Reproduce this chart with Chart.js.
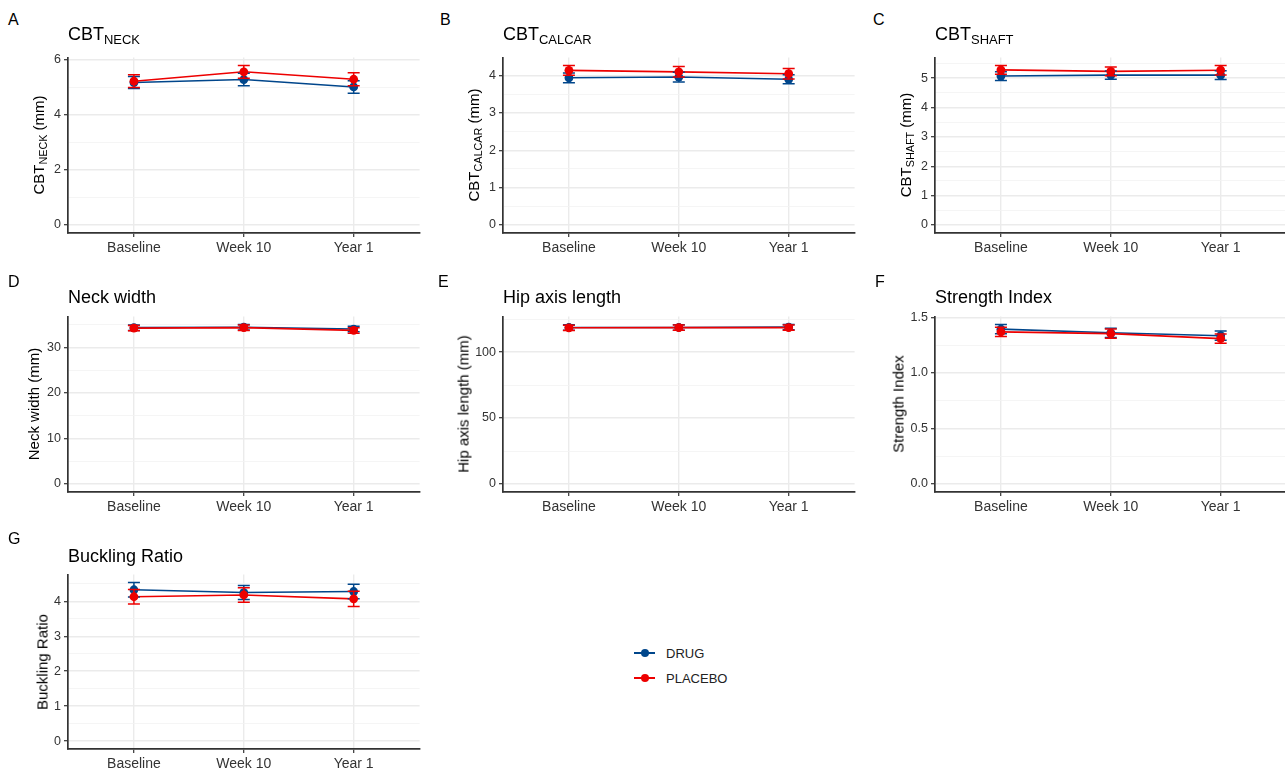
<!DOCTYPE html>
<html>
<head>
<meta charset="utf-8">
<script src="https://cdn.jsdelivr.net/npm/chart.js@4.4.1/dist/chart.umd.min.js"></script>
<style>
  html, body { margin: 0; padding: 0; background: #fff; overflow: hidden; }
  body { width: 1285px; height: 773px; position: relative; font-family: "Liberation Sans", Arial, sans-serif; }
  canvas { position: absolute; }
  .tag { position: absolute; font-size: 16px; line-height: 1; color: #000; }
  .ttl { position: absolute; font-size: 18px; line-height: 1; color: #000; white-space: nowrap; }
  .ylab { position: absolute; font-size: 15px; line-height: 1; color: #000; white-space: nowrap;
          transform: translate(-50%, -50%) rotate(-90deg); }
  sub { font-size: 0.72em; vertical-align: -0.32em; line-height: 0; }
  .key { position: absolute; height: 20px; display: flex; align-items: center; font-size: 13px; color: #222; }
  .sw { position: relative; display: inline-block; width: 21px; height: 2px; margin-right: 11px; }
  .sw::after { content: ''; position: absolute; left: 7px; top: -3px; width: 8px; height: 8px; border-radius: 50%; background: inherit; }
</style>
</head>
<body>

<script>
// 時間點
const timepoints = ['Baseline', 'Week 10', 'Year 1'];

// A - CBT neck (mm)
const cbtNeckDrug = [5.17, 5.28, 5.01];
const cbtNeckDrugSe = [0.22, 0.23, 0.23];
const cbtNeckPlacebo = [5.22, 5.56, 5.29];
const cbtNeckPlaceboSe = [0.23, 0.23, 0.24];
const cbtNeckTicks = ['0', '2', '4', '6'];

// B - CBT calcar (mm)
const cbtCalcarDrug = [3.94, 3.96, 3.90];
const cbtCalcarDrugSe = [0.13, 0.13, 0.12];
const cbtCalcarPlacebo = [4.14, 4.10, 4.05];
const cbtCalcarPlaceboSe = [0.13, 0.14, 0.14];
const cbtCalcarTicks = ['0', '1', '2', '3', '4'];

// C - CBT shaft (mm)
const cbtShaftDrug = [5.07, 5.10, 5.10];
const cbtShaftDrugSe = [0.15, 0.14, 0.15];
const cbtShaftPlacebo = [5.28, 5.23, 5.27];
const cbtShaftPlaceboSe = [0.15, 0.15, 0.16];
const cbtShaftTicks = ['0', '1', '2', '3', '4', '5'];

// D - neck width (mm)
const neckWidthDrug = [34.3, 34.4, 34.0];
const neckWidthDrugSe = [0.6, 0.6, 0.6];
const neckWidthPlacebo = [34.2, 34.3, 33.7];
const neckWidthPlaceboSe = [0.6, 0.6, 0.6];
const neckWidthTicks = ['0', '10', '20', '30'];

// E - hip axis length (mm)
const hipAxisDrug = [118.6, 118.6, 118.9];
const hipAxisDrugSe = [2.0, 2.0, 2.0];
const hipAxisPlacebo = [118.4, 118.5, 118.5];
const hipAxisPlaceboSe = [2.0, 2.0, 2.0];
const hipAxisTicks = ['0', '50', '100'];

// F - strength index
const strengthDrug = [1.395, 1.362, 1.336];
const strengthDrugSe = [0.042, 0.042, 0.042];
const strengthPlacebo = [1.37, 1.355, 1.31];
const strengthPlaceboSe = [0.042, 0.042, 0.042];
const strengthTicks = ['0.0', '0.5', '1.0', '1.5'];

// G - buckling ratio
const bucklingDrug = [4.33, 4.25, 4.28];
const bucklingDrugSe = [0.21, 0.20, 0.21];
const bucklingPlacebo = [4.13, 4.18, 4.07];
const bucklingPlaceboSe = [0.21, 0.21, 0.22];
const bucklingTicks = ['0', '1', '2', '3', '4'];

const DRUG_COLOR = '#00468B';
const PLACEBO_COLOR = '#ED0000';
const FONT = '"Liberation Sans", Arial, sans-serif';

const YW = 40;   // y 軸寬度
const XH = 24;   // x 軸高度
const PT = 10;   // 上方留白
const PR = 2;
const CAP = 6;

// 誤差線 plugin
const errorBars = {
  id: 'errorBars',
  beforeDatasetDraw(chart, args) {
    const ds = chart.data.datasets[args.index];
    if (!ds.err) return;
    const ctx = chart.ctx;
    const y = chart.scales.y;
    ctx.save();
    ctx.strokeStyle = ds.pointBackgroundColor;
    ctx.lineWidth = 1.5;
    args.meta.data.forEach((pt, i) => {
      const v = ds.data[i].y;
      const top = y.getPixelForValue(v + ds.err[i]);
      const bot = y.getPixelForValue(v - ds.err[i]);
      ctx.beginPath();
      ctx.moveTo(pt.x, top); ctx.lineTo(pt.x, bot);
      ctx.moveTo(pt.x - CAP, top); ctx.lineTo(pt.x + CAP, top);
      ctx.moveTo(pt.x - CAP, bot); ctx.lineTo(pt.x + CAP, bot);
      ctx.stroke();
    });
    ctx.restore();
  }
};

function xy(values) {
  return values.map((v, i) => ({ x: i + 1, y: v }));
}

function addText(cls, html, left, top) {
  const d = document.createElement('div');
  d.className = cls;
  d.innerHTML = html;
  d.style.left = left + 'px';
  d.style.top = top + 'px';
  document.body.appendChild(d);
}

function makePanel(p) {
  const tickVals = p.ticks.map(Number);
  const step = tickVals[1] - tickVals[0];

  // ggplot 式的範圍: 0 到最大值, 上下各擴 5%
  const hi = Math.max(...p.drug.map((v, i) => v + p.drugSe[i]), ...p.placebo.map((v, i) => v + p.placeboSe[i]));
  const pad = hi * 0.05;
  const yMin = -pad, yMax = hi + pad;

  const minor = [];
  for (let i = 0; i < tickVals.length; i++) {
    const m = tickVals[i] + step / 2;
    if (m < yMax) minor.push(m);
  }
  const allTicks = tickVals.concat(minor).sort((a, b) => a - b);
  const isMajor = v => tickVals.some(t => Math.abs(t - v) < 1e-9);

  const canvas = document.createElement('canvas');
  const w = p.x1 - p.x0 + YW + PR;
  const h = p.y1 - p.y0 + PT + XH;
  canvas.width = w;
  canvas.height = h;
  canvas.style.left = (p.x0 - YW) + 'px';
  canvas.style.top = (p.y0 - PT) + 'px';
  canvas.style.width = w + 'px';
  canvas.style.height = h + 'px';
  document.body.appendChild(canvas);

  addText('tag', p.tag, p.tagX, p.tagY);
  addText('ttl', p.title, p.x0, p.titleY);
  addText('ylab', p.ylab, p.ylabX, (p.y0 + p.y1) / 2);

  const lineBase = { borderWidth: 1.6, pointRadius: 0, fill: false, tension: 0 };
  const pointBase = { showLine: false, pointRadius: 4.4, pointBorderWidth: 0, pointHoverRadius: 4.4 };

  new Chart(canvas, {
    type: 'line',
    data: {
      datasets: [
        { ...lineBase, label: 'DRUG', data: xy(p.drug), borderColor: DRUG_COLOR, order: 4 },
        { ...lineBase, label: 'PLACEBO', data: xy(p.placebo), borderColor: PLACEBO_COLOR, order: 3 },
        { ...pointBase, label: 'DRUG', data: xy(p.drug), err: p.drugSe, pointBackgroundColor: DRUG_COLOR, borderColor: DRUG_COLOR, order: 2 },
        { ...pointBase, label: 'PLACEBO', data: xy(p.placebo), err: p.placeboSe, pointBackgroundColor: PLACEBO_COLOR, borderColor: PLACEBO_COLOR, order: 1 },
      ],
    },
    options: {
      responsive: false,
      animation: false,
      events: [],
      layout: { padding: { top: PT, right: PR, left: 0, bottom: 0 } },
      plugins: { legend: { display: false }, tooltip: { enabled: false } },
      scales: {
        x: {
          type: 'linear',
          min: 0.4,
          max: 3.6,
          afterBuildTicks: s => { s.ticks = timepoints.map((t, i) => ({ value: i + 1 })); },
          afterFit: s => { s.height = XH; },
          ticks: {
            autoSkip: false, maxRotation: 0, padding: 3,
            color: '#333', font: { family: FONT, size: 14 },
            callback: v => timepoints[Math.round(v) - 1],
          },
          grid: { color: '#ebebeb', lineWidth: 1.4, tickLength: 4, tickColor: '#333', tickWidth: 1.2 },
          border: { display: true, color: '#333', width: 1.7 },
        },
        y: {
          type: 'linear',
          min: yMin,
          max: yMax,
          afterBuildTicks: s => { s.ticks = allTicks.map(v => ({ value: v })); },
          afterFit: s => { s.width = YW; },
          ticks: {
            autoSkip: false, padding: 3,
            color: '#333', font: { family: FONT, size: 12.5 },
            callback: v => {
              const i = tickVals.findIndex(t => Math.abs(t - v) < 1e-9);
              return i >= 0 ? p.ticks[i] : '';
            },
          },
          grid: {
            color: c => (c.tick && !isMajor(c.tick.value) ? '#f3f3f3' : '#ebebeb'),
            lineWidth: c => (c.tick && !isMajor(c.tick.value) ? 0.8 : 1.4),
            tickLength: 4,
            tickWidth: 1.2,
            tickColor: c => (c.tick && !isMajor(c.tick.value) ? 'rgba(0,0,0,0)' : '#333'),
          },
          border: { display: true, color: '#333', width: 1.7 },
        },
      },
    },
    plugins: [errorBars],
  });
}

const panels = [
  { tag: 'A', tagX: 8, tagY: 12, title: 'CBT<sub>NECK</sub>', titleY: 25,
    ylab: 'CBT<sub>NECK</sub> (mm)', ylabX: 38,
    x0: 68, x1: 422, y0: 57, y1: 233,
    drug: cbtNeckDrug, drugSe: cbtNeckDrugSe, placebo: cbtNeckPlacebo, placeboSe: cbtNeckPlaceboSe, ticks: cbtNeckTicks },
  { tag: 'B', tagX: 440, tagY: 12, title: 'CBT<sub>CALCAR</sub>', titleY: 25,
    ylab: 'CBT<sub>CALCAR</sub> (mm)', ylabX: 473,
    x0: 503, x1: 857, y0: 57, y1: 233,
    drug: cbtCalcarDrug, drugSe: cbtCalcarDrugSe, placebo: cbtCalcarPlacebo, placeboSe: cbtCalcarPlaceboSe, ticks: cbtCalcarTicks },
  { tag: 'C', tagX: 873, tagY: 12, title: 'CBT<sub>SHAFT</sub>', titleY: 25,
    ylab: 'CBT<sub>SHAFT</sub> (mm)', ylabX: 905,
    x0: 935, x1: 1289, y0: 57, y1: 233,
    drug: cbtShaftDrug, drugSe: cbtShaftDrugSe, placebo: cbtShaftPlacebo, placeboSe: cbtShaftPlaceboSe, ticks: cbtShaftTicks },
  { tag: 'D', tagX: 8, tagY: 274, title: 'Neck width', titleY: 288,
    ylab: 'Neck width (mm)', ylabX: 33,
    x0: 68, x1: 422, y0: 316, y1: 492,
    drug: neckWidthDrug, drugSe: neckWidthDrugSe, placebo: neckWidthPlacebo, placeboSe: neckWidthPlaceboSe, ticks: neckWidthTicks },
  { tag: 'E', tagX: 438, tagY: 274, title: 'Hip axis length', titleY: 288,
    ylab: 'Hip axis length (mm)', ylabX: 463,
    x0: 503, x1: 857, y0: 316, y1: 492,
    drug: hipAxisDrug, drugSe: hipAxisDrugSe, placebo: hipAxisPlacebo, placeboSe: hipAxisPlaceboSe, ticks: hipAxisTicks },
  { tag: 'F', tagX: 875, tagY: 274, title: 'Strength Index', titleY: 288,
    ylab: 'Strength Index', ylabX: 898,
    x0: 935, x1: 1289, y0: 316, y1: 492,
    drug: strengthDrug, drugSe: strengthDrugSe, placebo: strengthPlacebo, placeboSe: strengthPlaceboSe, ticks: strengthTicks },
  { tag: 'G', tagX: 8, tagY: 531, title: 'Buckling Ratio', titleY: 547,
    ylab: 'Buckling Ratio', ylabX: 42,
    x0: 68, x1: 422, y0: 574, y1: 749,
    drug: bucklingDrug, drugSe: bucklingDrugSe, placebo: bucklingPlacebo, placeboSe: bucklingPlaceboSe, ticks: bucklingTicks },
];

panels.forEach(makePanel);

// 圖例
[['DRUG', DRUG_COLOR, 643], ['PLACEBO', PLACEBO_COLOR, 668]].forEach(([name, color, top]) => {
  const k = document.createElement('div');
  k.className = 'key';
  k.style.left = '634px';
  k.style.top = top + 'px';
  k.innerHTML = '<span class="sw" style="background:' + color + '"></span>' + name;
  document.body.appendChild(k);
});
</script>
</body>
</html>
